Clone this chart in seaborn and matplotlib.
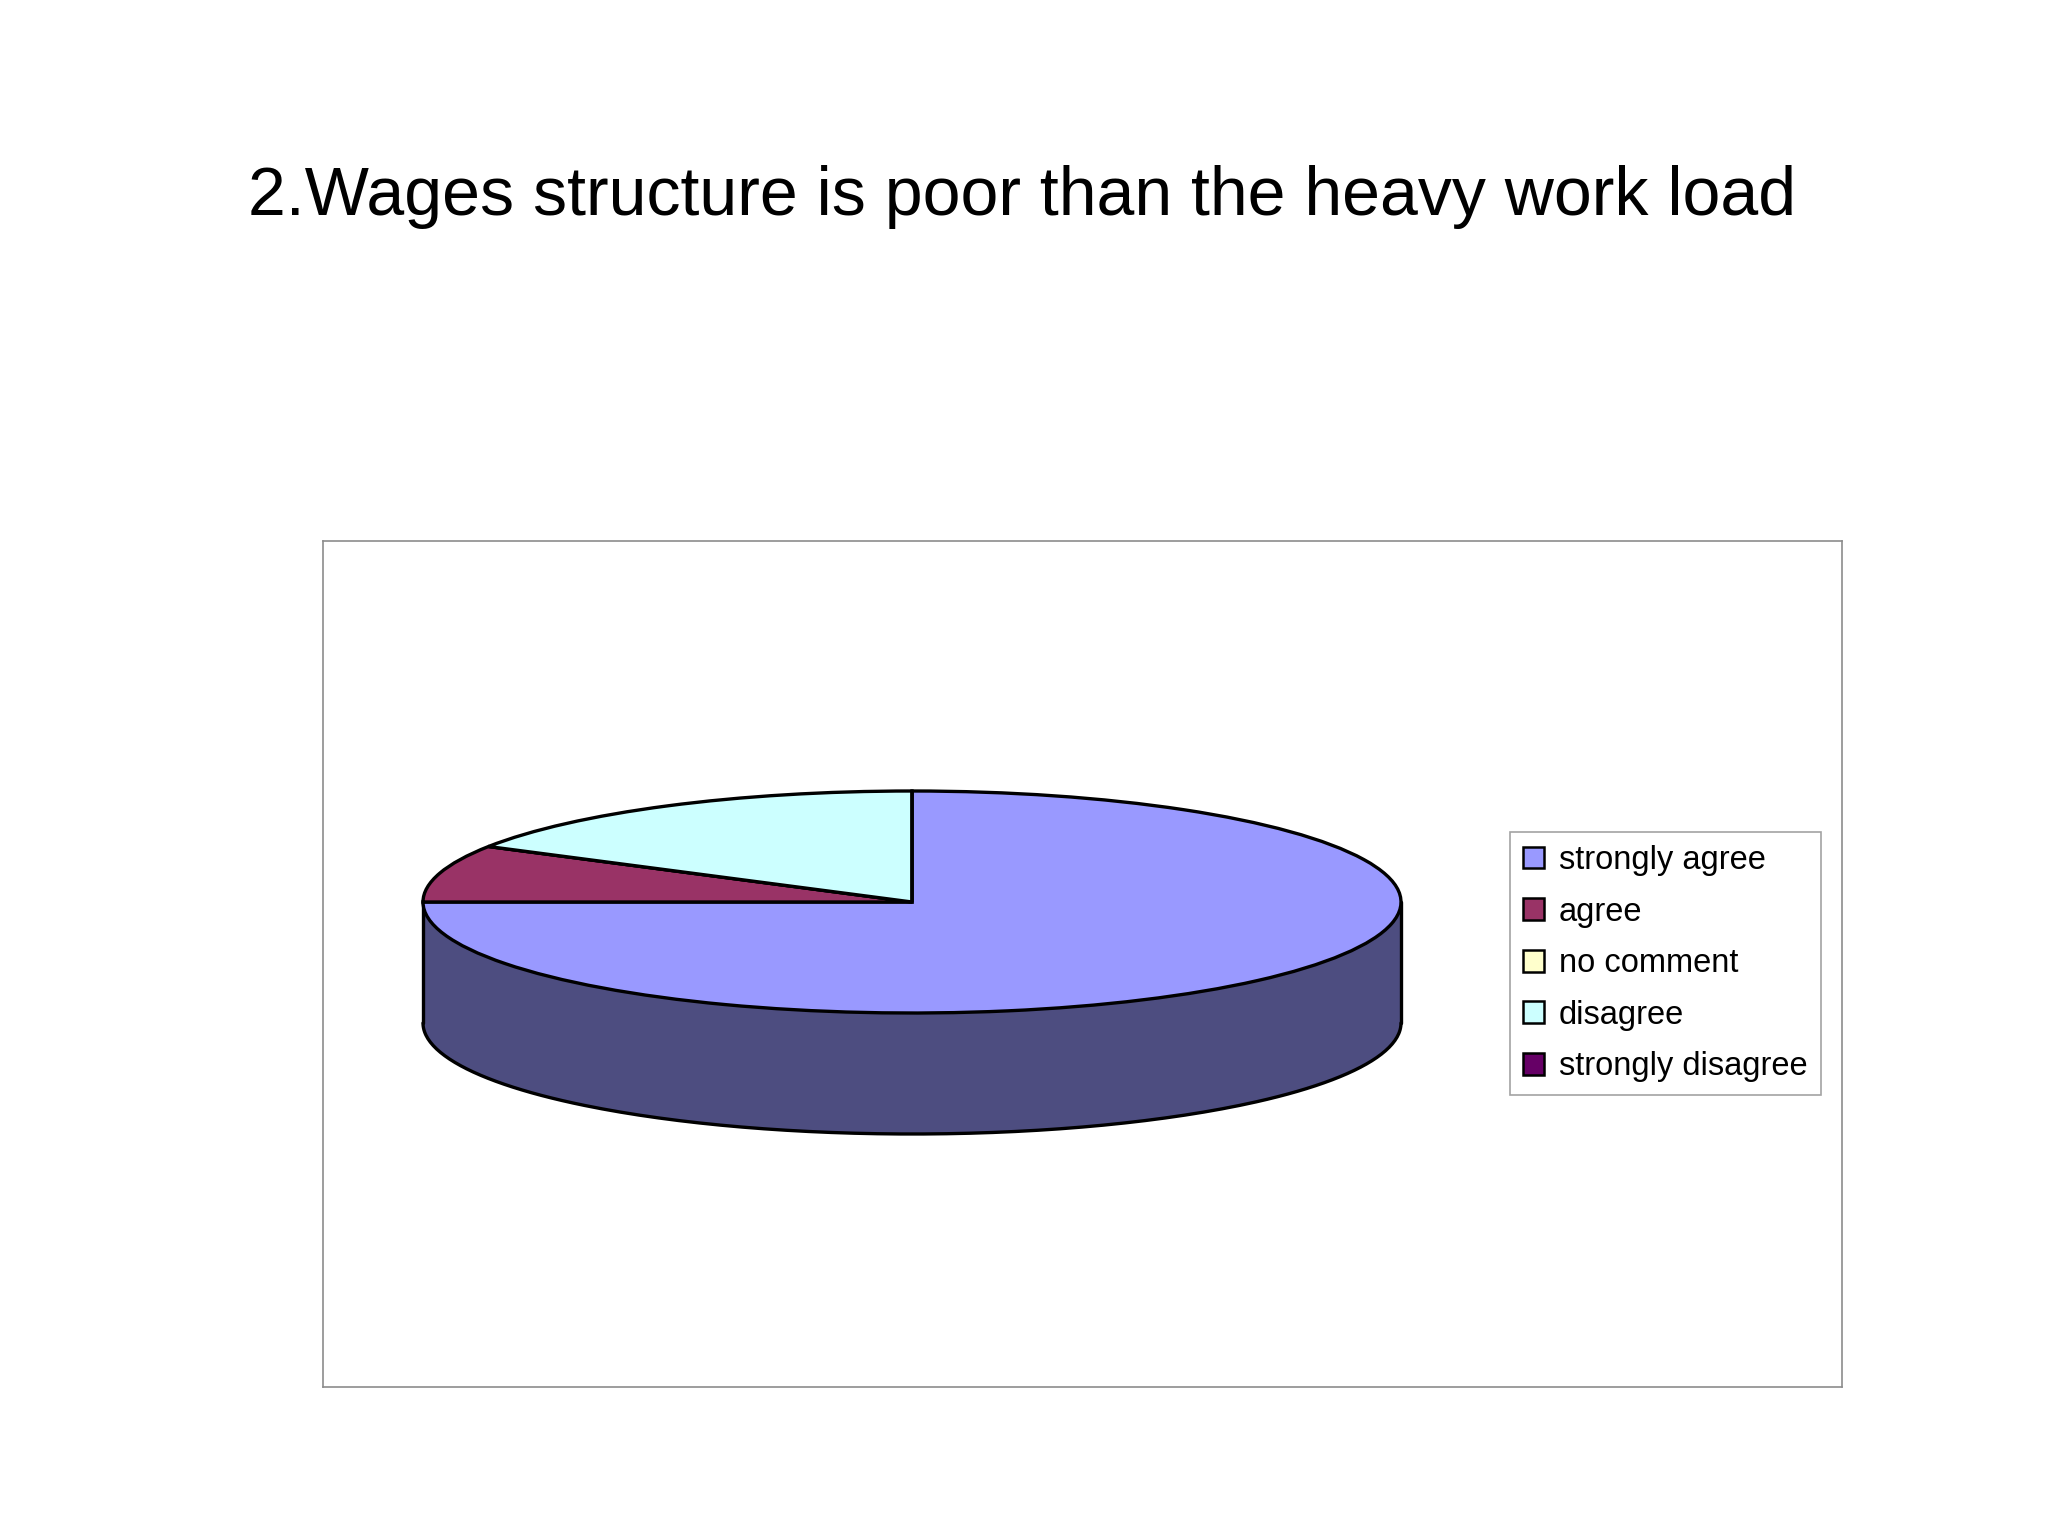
import numpy as np
import matplotlib
matplotlib.use("Agg")
import matplotlib.pyplot as plt
import matplotlib.colors as mcolors
import seaborn as sns

# ---- data ----
categories = ["strongly agree", "agree", "no comment", "disagree", "strongly disagree"]
values = [45, 5, 0, 10, 0]
slice_colors = ["#9999FF", "#993366", "#FFFFCC", "#CCFFFF", "#660066"]
title_text = "2.Wages structure is poor than the heavy work load"

sns.set_theme(style="white")
plt.rcParams["font.family"] = ["Liberation Sans", "DejaVu Sans"]
plt.rcParams["text.color"] = "black"

W, H = 2048, 1536
fig = plt.figure(figsize=(W / 100, H / 100), dpi=100)
fig.patch.set_facecolor("white")

# chart box in pixels
bx0, by0, bx1, by1 = 323, 541, 1842, 1387
ax = fig.add_axes([bx0 / W, 1 - by1 / H, (bx1 - bx0) / W, (by1 - by0) / H])

pal = sns.color_palette(slice_colors)
wedges, _ = ax.pie(values, colors=pal, startangle=90, counterclock=False,
                   labels=categories, labeldistance=None,
                   wedgeprops=dict(edgecolor="black", linewidth=2.4))
for w in wedges:
    w.set_zorder(3)

ax.set_aspect("auto")
cx, cy = 912, 902
rx, ry = 489, 111
depth = 121 / ry
ax.set_xlim((bx0 - cx) / rx, (bx1 - cx) / rx)
ax.set_ylim((cy - by1) / ry, (cy - by0) / ry)

# side wall of the visible (front) part of each slice
for w, col in zip(wedges, slice_colors):
    t1, t2 = sorted([w.theta1, w.theta2])
    for shift in (-360, 0, 360):
        a, b = t1 + shift, t2 + shift
        lo, hi = max(a, 180), min(b, 360)
        if hi > lo:
            t = np.radians(np.linspace(lo, hi, 200))
            x = np.cos(t)
            ytop = np.sin(t)
            dark = np.array(mcolors.to_rgb(col)) * 0.5
            ax.fill_between(x, ytop, ytop - depth, color=dark, linewidth=0, zorder=1)
            ax.plot(x, ytop - depth, color="black", lw=2.4, zorder=2)
ax.plot([-1, -1], [0, -depth], color="black", lw=2.4, zorder=2)
ax.plot([1, 1], [0, -depth], color="black", lw=2.4, zorder=2)

ax.set_frame_on(True)
for s in ax.spines.values():
    s.set_visible(True)
    s.set_color("#8c8c8c")
    s.set_linewidth(1.2)
ax.set_xticks([])
ax.set_yticks([])

leg = ax.legend(wedges, categories, loc="upper left",
                bbox_to_anchor=(1510 / W, 1 - 832 / H), bbox_transform=fig.transFigure,
                fontsize=23.5, frameon=True, fancybox=False, shadow=False,
                handlelength=0.65, handleheight=0.65, handletextpad=0.45,
                labelspacing=0.63, borderpad=0.4, borderaxespad=0)
leg.get_frame().set_edgecolor("#8c8c8c")
leg.get_frame().set_linewidth(1.2)
for h in leg.legend_handles:
    h.set_linewidth(1.8)
    h.set_edgecolor("black")
for t in leg.get_texts():
    t.set_color("black")

fig.text(1022 / W, 1 - 197 / H, title_text, ha="center", va="center",
         fontsize=49, color="black")

fig.savefig("out.png", dpi=100, facecolor="white")
